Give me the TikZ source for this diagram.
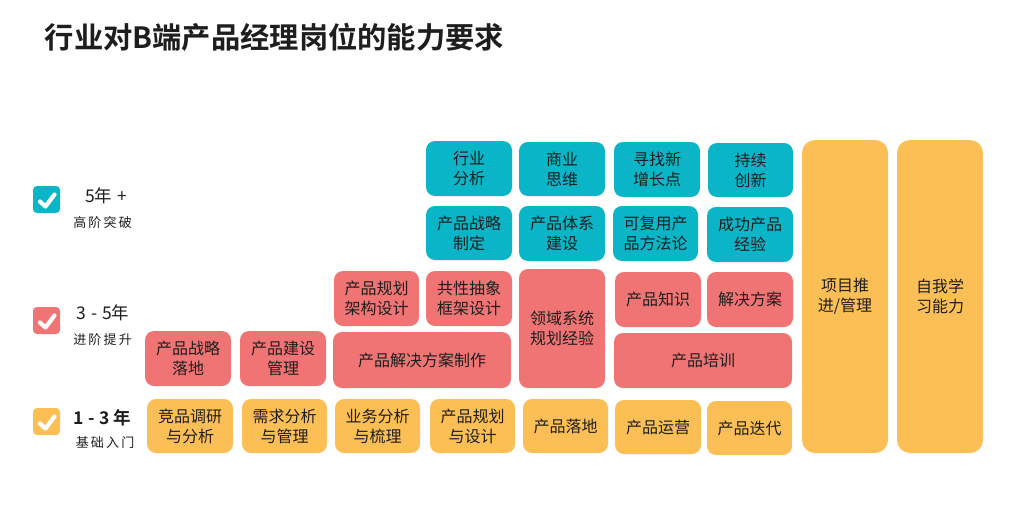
\documentclass[tikz,border=0pt]{standalone}
\usepackage{fontspec}
\setmainfont{Noto Sans CJK SC}
\newfontfamily\cjkb{Noto Sans CJK SC Bold}
\definecolor{tealc}{HTML}{0BB5C8}
\definecolor{pinkc}{HTML}{F07474}
\definecolor{orangec}{HTML}{FCBF56}
\definecolor{txt}{HTML}{1E1E1E}
\tikzset{
  cell/.style={rounded corners=9pt, inner sep=0pt, align=center, text=txt,
    font=\fontsize{16}{20}\selectfont},
  tealbox/.style={cell, fill=tealc},
  pinkbox/.style={cell, fill=pinkc},
  orangebox/.style={cell, fill=orangec},
  checkbox/.style={rounded corners=4pt, minimum width=27pt, minimum height=27pt, inner sep=0pt},
  tick/.style={draw=white, line width=4.2pt, line cap=round, line join=round},
  lvl/.style={text=txt, inner sep=0pt, font=\fontsize{17.5}{20}\selectfont},
  sub/.style={text=txt, inner sep=0pt, font=\fontsize{13}{16}\selectfont},
}
\newcommand\cb[7]{% style, name, x1, y1, x2, y2, text
  \node[#1, minimum width=#5pt-#3pt, minimum height=#6pt-#4pt] (#2) at ({(#3+#5)/2},{(#4+#6)/2}) {#7};}
\begin{document}
\begin{tikzpicture}[x=1pt,y=-1pt]
\useasboundingbox (0,0) rectangle (1022,530);
% title
\node[anchor=west, inner sep=0pt, text=txt, font=\cjkb\fontsize{29.3}{32}\selectfont] (title) at (44.5,37) {行业对B端产品经理岗位的能力要求};
% level markers
\node[checkbox, fill=tealc] (c5) at (46.5,199.5) {};
\node[checkbox, fill=pinkc] (c3) at (46.5,320.5) {};
\node[checkbox, fill=orangec] (c1) at (46.5,421.5) {};
\foreach \n in {c5,c3,c1}{
  \draw[tick] ([shift={(-6.5,2)}]\n.center) -- ([shift={(-1,7)}]\n.center) -- ([shift={(8,-5)}]\n.center);
}
\node[lvl] (l5) at (106,196) {5年\;+};
\node[sub] (s5) at (102.5,223) {高\,阶\,突\,破};
\node[lvl] (l3) at (103,313) {3\;-\;5年};
\node[sub] (s3) at (102.5,340) {进\,阶\,提\,升};
\node[lvl, font=\cjkb\fontsize{17.5}{20}\selectfont] (l1) at (102,418) {1\;-\;3\,年};
\node[sub] (s1) at (105,443) {基\,础\,入\,门};
% teal rows
\cb{tealbox}{t1}{426}{141}{512}{196}{行业\\分析}
\cb{tealbox}{t2}{519}{142}{605}{196}{商业\\思维}
\cb{tealbox}{t3}{614}{142}{700}{197}{寻找新\\增长点}
\cb{tealbox}{t4}{708}{143}{793}{197}{持续\\创新}
\cb{tealbox}{t5}{426}{206}{512}{260}{产品战略\\制定}
\cb{tealbox}{t6}{519}{206}{605}{261}{产品体系\\建设}
\cb{tealbox}{t7}{613}{206}{698}{261}{可复用产\\品方法论}
\cb{tealbox}{t8}{707}{207}{793}{262}{成功产品\\经验}
% pink rows
\cb{pinkbox}{p1}{334}{271}{419}{326}{产品规划\\架构设计}
\cb{pinkbox}{p2}{426}{271}{512}{326}{共性抽象\\框架设计}
\cb{pinkbox}{p3}{519}{269}{605}{388}{领域系统\\规划经验}
\cb{pinkbox}{p4}{615}{272}{701}{327}{产品知识}
\cb{pinkbox}{p5}{707}{272}{793}{327}{解决方案}
\cb{pinkbox}{p6}{145}{331}{231}{386}{产品战略\\落地}
\cb{pinkbox}{p7}{240}{331}{326}{386}{产品建设\\管理}
\cb{pinkbox}{p8}{333}{332}{511}{388}{产品解决方案制作}
\cb{pinkbox}{p9}{614}{333}{792}{388}{产品培训}
% orange row
\cb{orangebox}{o1}{147}{399}{233}{453}{竞品调研\\与分析}
\cb{orangebox}{o2}{242}{399}{327}{453}{需求分析\\与管理}
\cb{orangebox}{o3}{335}{399}{420}{453}{业务分析\\与梳理}
\cb{orangebox}{o4}{430}{399}{515}{453}{产品规划\\与设计}
\cb{orangebox}{o5}{523}{399}{608}{453}{产品落地}
\cb{orangebox}{o6}{615}{400}{701}{454}{产品运营}
\cb{orangebox}{o7}{707}{401}{792}{455}{产品迭代}
% tall bars
\cb{orangebox, rounded corners=13pt}{b1}{802}{140}{888}{453}{项目推\\进/管理}
\cb{orangebox, rounded corners=13pt}{b2}{897}{140}{983}{453}{自我学\\习能力}
\end{tikzpicture}
\end{document}
